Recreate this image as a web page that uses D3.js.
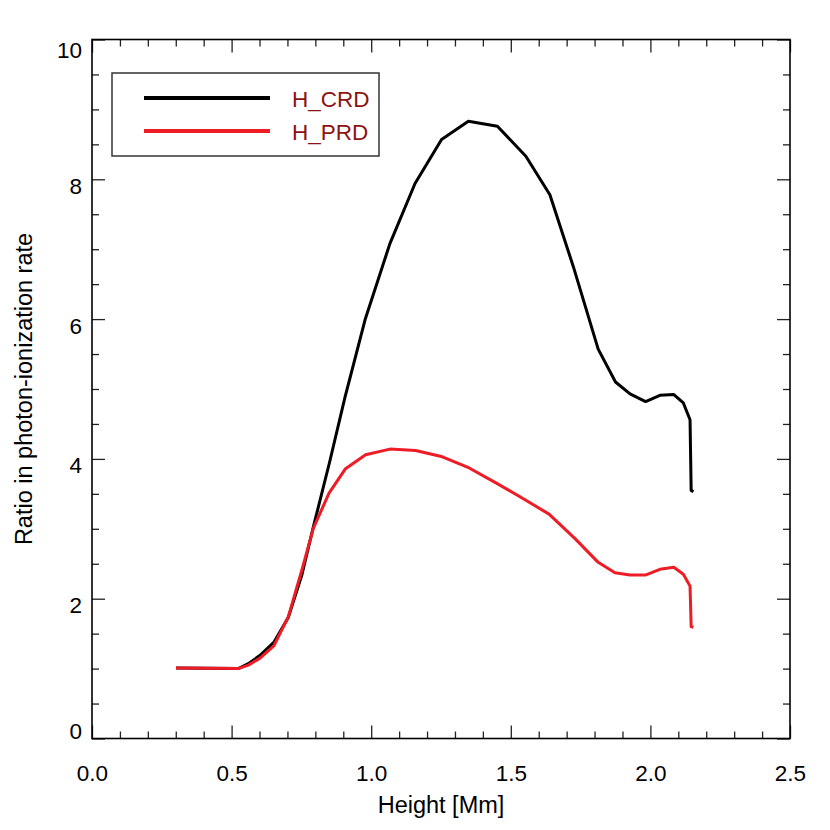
<!DOCTYPE html>
<html>
<head>
<meta charset="utf-8">
<script src="https://cdn.jsdelivr.net/npm/d3@7"></script>
<style>
  html, body { margin: 0; padding: 0; background: #fff; }
  svg { display: block; font-family: "Liberation Sans", Arial, Helvetica, sans-serif; }
</style>
</head>
<body>
<svg id="chart" width="830" height="830"></svg>
<script>
// ---- data ----
const crdHeight = [0.301, 0.524, 0.560, 0.602, 0.652, 0.703, 0.751, 0.793, 0.852, 0.906, 0.978, 1.067, 1.157, 1.252, 1.348, 1.452, 1.554, 1.640, 1.724, 1.813, 1.875, 1.927, 1.983, 2.034, 2.084, 2.118, 2.142, 2.146, 2.154];
const crdRatio  = [1.01, 1.00, 1.07, 1.19, 1.38, 1.73, 2.33, 3.03, 3.97, 4.88, 5.99, 7.08, 7.94, 8.57, 8.83, 8.76, 8.33, 7.78, 6.75, 5.57, 5.10, 4.93, 4.82, 4.91, 4.92, 4.80, 4.56, 3.55, 3.53];
const prdHeight = [0.301, 0.524, 0.560, 0.602, 0.652, 0.703, 0.751, 0.793, 0.849, 0.908, 0.980, 1.067, 1.159, 1.255, 1.351, 1.450, 1.545, 1.637, 1.730, 1.813, 1.873, 1.927, 1.984, 2.034, 2.084, 2.118, 2.142, 2.146, 2.154];
const prdRatio  = [1.01, 1.00, 1.05, 1.15, 1.33, 1.74, 2.40, 3.01, 3.51, 3.86, 4.06, 4.14, 4.12, 4.03, 3.87, 3.65, 3.43, 3.21, 2.86, 2.52, 2.37, 2.34, 2.34, 2.42, 2.45, 2.35, 2.18, 1.60, 1.59];
const xMajorTicks = [0.0, 0.5, 1.0, 1.5, 2.0, 2.5];
const xTickLabels = ["0.0", "0.5", "1.0", "1.5", "2.0", "2.5"];
const yMajorTicks = [0, 2, 4, 6, 8, 10];
const yTickLabels = ["0", "2", "4", "6", "8", "10"];
const seriesNames = ["H_CRD", "H_PRD"];
const seriesColors = ["#000000", "#ee1c25"];

// ---- layout ----
const svg = d3.select("#chart");
const L = 92, R = 790, T = 39.5, B = 738.5;
const x = d3.scaleLinear().domain([0, 2.5]).range([L, R]);
const y = d3.scaleLinear().domain([0, 10]).range([B, T]);

const xMinor = d3.range(0, 2.5001, 0.1).filter(v => Math.abs(v / 0.5 - Math.round(v / 0.5)) > 1e-6);
const yMinor = d3.range(0, 10.001, 0.5).filter(v => Math.abs(v / 2 - Math.round(v / 2)) > 1e-6);

function styleAxis(g) {
  g.select(".domain").remove();
  g.selectAll(".tick line").attr("stroke", "#222").attr("stroke-width", 1.3);
}
const tickFont = 22.5;

// bottom
svg.append("g").attr("transform", `translate(0,${B})`)
  .call(d3.axisBottom(x).tickValues(xMajorTicks).tickSize(-13).tickPadding(27)
    .tickFormat((d, i) => xTickLabels[i]))
  .call(styleAxis)
  .call(g => g.selectAll("text").attr("font-size", tickFont).attr("fill", "#000")
    .attr("font-family", "Liberation Sans, Arial, sans-serif"));
svg.append("g").attr("transform", `translate(0,${B})`)
  .call(d3.axisBottom(x).tickValues(xMinor).tickSize(-7).tickFormat(""))
  .call(styleAxis);
// top
svg.append("g").attr("transform", `translate(0,${T})`)
  .call(d3.axisTop(x).tickValues(xMajorTicks).tickSize(-13).tickFormat(""))
  .call(styleAxis);
svg.append("g").attr("transform", `translate(0,${T})`)
  .call(d3.axisTop(x).tickValues(xMinor).tickSize(-7).tickFormat(""))
  .call(styleAxis);
// left
svg.append("g").attr("transform", `translate(${L},0)`)
  .call(d3.axisLeft(y).tickValues(yMajorTicks).tickSize(-13).tickPadding(10)
    .tickFormat((d, i) => yTickLabels[i]))
  .call(styleAxis)
  .call(g => g.selectAll("text").attr("font-size", tickFont).attr("fill", "#000")
    .attr("font-family", "Liberation Sans, Arial, sans-serif")
    .attr("dy", d => d === 10 ? "0.82em" : (d === 0 ? "0.0em" : "0.62em")));
svg.append("g").attr("transform", `translate(${L},0)`)
  .call(d3.axisLeft(y).tickValues(yMinor).tickSize(-7).tickFormat(""))
  .call(styleAxis);
// right
svg.append("g").attr("transform", `translate(${R},0)`)
  .call(d3.axisRight(y).tickValues(yMajorTicks).tickSize(-13).tickFormat(""))
  .call(styleAxis);
svg.append("g").attr("transform", `translate(${R},0)`)
  .call(d3.axisRight(y).tickValues(yMinor).tickSize(-7).tickFormat(""))
  .call(styleAxis);

// frame
svg.append("rect").attr("x", L).attr("y", T).attr("width", R - L).attr("height", B - T)
  .attr("fill", "none").attr("stroke", "#000").attr("stroke-width", 1.6);

// axis titles
svg.append("text").attr("x", (L + R) / 2).attr("y", 813).attr("text-anchor", "middle")
  .attr("font-size", 23.5).text("Height [Mm]");
svg.append("text").attr("transform", `translate(32,${(T + B) / 2}) rotate(-90)`)
  .attr("text-anchor", "middle").attr("font-size", 23.5).text("Ratio in photon-ionization rate");

// lines
const line = d3.line().x(d => x(d[0])).y(d => y(d[1]));
const series = [
  d3.zip(crdHeight, crdRatio),
  d3.zip(prdHeight, prdRatio)
];
series.forEach((s, i) => {
  svg.append("path").datum(s).attr("d", line)
    .attr("fill", "none").attr("stroke", seriesColors[i]).attr("stroke-width", 3)
    .attr("stroke-linejoin", "round").attr("stroke-linecap", "butt");
});

// legend
const lg = svg.append("g");
lg.append("rect").attr("x", 112).attr("y", 73).attr("width", 267).attr("height", 83)
  .attr("fill", "#fff").attr("stroke", "#333").attr("stroke-width", 1.5);
seriesNames.forEach((name, i) => {
  const yy = 98 + i * 33;
  lg.append("line").attr("x1", 144).attr("x2", 270).attr("y1", yy).attr("y2", yy)
    .attr("stroke", seriesColors[i]).attr("stroke-width", 4);
  lg.append("text").attr("x", 292).attr("y", yy + 8.5).attr("font-size", 22.5)
    .attr("fill", "#8b1414").text(name);
});
</script>
</body>
</html>
